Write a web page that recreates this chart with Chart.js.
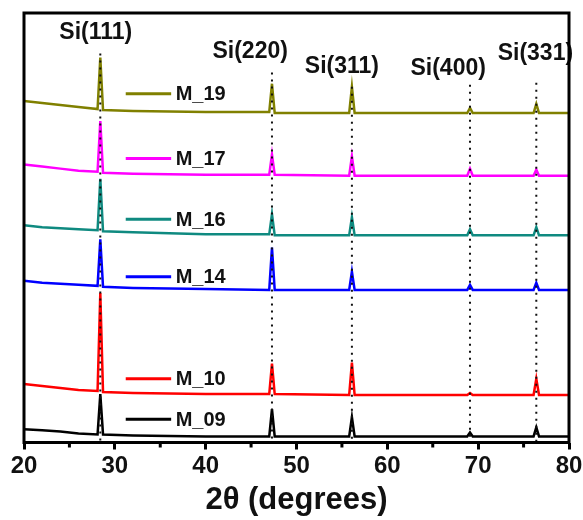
<!DOCTYPE html>
<html>
<head>
<meta charset="utf-8">
<script src="https://cdn.jsdelivr.net/npm/chart.js@4.4.0/dist/chart.umd.min.js"></script>
<style>
  html, body { margin: 0; padding: 0; background: #fff; }
  #wrap { width: 583px; height: 520px; }
</style>
</head>
<body>
<div id="wrap"><canvas id="myChart" width="583" height="520"></canvas></div>
<script>
// 2theta sample points (degrees)
const twoTheta = [20, 22, 24, 26, 28.1, 28.4, 28.7, 32, 40, 47.0, 47.3, 47.6, 55.8, 56.1, 56.4, 68.8, 69.1, 69.4, 76.1, 76.4, 76.7, 80]

// intensities (a.u., already stacked)
const m19 = [338, 336, 334, 332, 330, 381, 329, 328, 327, 327, 355, 326, 326, 352, 326, 326, 331, 326, 326, 335, 326, 326]
const m17 = [275, 273, 271, 269, 268, 318, 267, 266, 265, 265, 285, 265, 264, 283, 264, 264, 271, 264, 264, 270, 264, 264]
const m16 = [215, 213, 212, 211, 210, 261, 209, 208, 206, 206, 226, 205, 205, 223, 205, 205, 211, 205, 205, 213, 205, 205]
const m14 = [160, 158, 157, 156, 155, 201, 154, 153, 152, 151, 193, 151, 151, 169, 151, 151, 156, 151, 151, 158, 151, 151]
const m10 = [58, 56, 54, 52, 51, 148, 50, 49, 48, 48, 78, 48, 47, 79, 47, 47, 49, 47, 47, 63, 47, 47]
const m09 = [13, 12, 11, 9, 8, 48, 8, 7, 6, 6, 33, 6, 6, 25, 6, 6, 10, 6, 6, 15, 6, 6]

const sampleNames = ['M_19', 'M_17', 'M_16', 'M_14', 'M_10', 'M_09']
const sampleColors = ['#808000', '#ff00ff', '#0f8a80', '#0000ff', '#ff0000', '#000000']

// Si reflections
const peakNames = ['Si(111)', 'Si(220)', 'Si(311)', 'Si(400)', 'Si(331)']
const peakPos = [28.4, 47.3, 56.1, 69.1, 76.4]

const xTicks = [20, 30, 40, 50, 60, 70, 80]

// placement of in-plot labels (data units)
const legendY = [345, 281, 221, 164, 63, 23]
const peakLabelX = [27.9, 44.9, 55.0, 66.7, 76.3]
const peakLabelY = [406, 387, 372, 370, 385]
const dotTopY = [385, 366, 352, 354, 356]

const series = [m19, m17, m16, m14, m10, m09]

const FONT = '"Liberation Sans", Arial, sans-serif'

const overlay = {
    id: 'overlay',
    afterDatasetsDraw(chart) {
        const ctx = chart.ctx
        const x = chart.scales.x
        const y = chart.scales.y
        const area = chart.chartArea
        ctx.save()

        // dotted guide lines
        ctx.strokeStyle = '#111'
        ctx.lineWidth = 2
        ctx.setLineDash([2, 5])
        peakPos.forEach((p, i) => {
            const px = x.getPixelForValue(p)
            ctx.beginPath()
            ctx.moveTo(px, y.getPixelForValue(dotTopY[i]))
            ctx.lineTo(px, area.bottom)
            ctx.stroke()
        })
        ctx.setLineDash([])

        // peak names
        ctx.fillStyle = '#111'
        ctx.font = 'bold 23px ' + FONT
        ctx.textAlign = 'center'
        ctx.textBaseline = 'middle'
        peakNames.forEach((n, i) => {
            ctx.fillText(n, x.getPixelForValue(peakLabelX[i]), y.getPixelForValue(peakLabelY[i]))
        })

        // sample labels
        ctx.font = 'bold 20px ' + FONT
        ctx.textAlign = 'left'
        sampleNames.forEach((n, i) => {
            const py = y.getPixelForValue(legendY[i])
            ctx.strokeStyle = sampleColors[i]
            ctx.lineWidth = 3
            ctx.beginPath()
            ctx.moveTo(x.getPixelForValue(31.2), py)
            ctx.lineTo(x.getPixelForValue(36.2), py)
            ctx.stroke()
            ctx.fillStyle = '#111'
            ctx.fillText(n, x.getPixelForValue(36.7), py + 1)
        })

        // minor ticks (shorter)
        ctx.strokeStyle = '#000'
        ctx.lineWidth = 3
        for (let v = 25; v < 80; v += 10) {
            const px = x.getPixelForValue(v)
            ctx.beginPath()
            ctx.moveTo(px, area.bottom)
            ctx.lineTo(px, area.bottom + 5)
            ctx.stroke()
        }

        // frame
        ctx.strokeRect(area.left, area.top, area.right - area.left, area.bottom - area.top)
        ctx.restore()
    }
}

const config = {
    type: 'line',
    data: {
        datasets: series.map((s, i) => ({
            label: sampleNames[i],
            data: s.map((v, k) => ({x: twoTheta[k], y: v})),
            borderColor: sampleColors[i],
            borderWidth: 2.5,
            pointRadius: 0,
            tension: 0,
            fill: false,
        }))
    },
    options: {
        responsive: false,
        devicePixelRatio: 1,
        animation: false,
        layout: {
            padding: {left: 24, right: 14, top: 13, bottom: 2}
        },
        plugins: {
            legend: {display: false},
            tooltip: {enabled: false}
        },
        scales: {
            x: {
                type: 'linear',
                min: 20,
                max: 80,
                border: {display: false},
                afterFit: s => {
                    // let layout padding decide the plot edges
                    s.paddingLeft = 0
                    s.paddingRight = 0
                },
                grid: {
                    drawOnChartArea: false,
                    drawTicks: true,
                    tickLength: 7,
                    tickWidth: 3,
                    tickColor: c => xTicks.includes(c.tick.value) ? '#000' : 'rgba(0,0,0,0)'
                },
                ticks: {
                    stepSize: 5,
                    autoSkip: false,
                    maxRotation: 0,
                    padding: 4,
                    color: '#111',
                    font: {family: FONT, size: 24, weight: 'bold', lineHeight: 1.1},
                    callback: v => xTicks.includes(v) ? String(v) : ''
                },
                title: {
                    display: true,
                    text: '2θ (degrees)',
                    color: '#111',
                    font: {family: FONT, size: 31, weight: 'bold', lineHeight: 1.1},
                    padding: {top: 0, bottom: 0}
                }
            },
            y: {
                display: false,
                min: 0,
                max: 425
            }
        }
    },
    plugins: [overlay]
}

new Chart(document.getElementById('myChart').getContext('2d'), config)
</script>
</body>
</html>
